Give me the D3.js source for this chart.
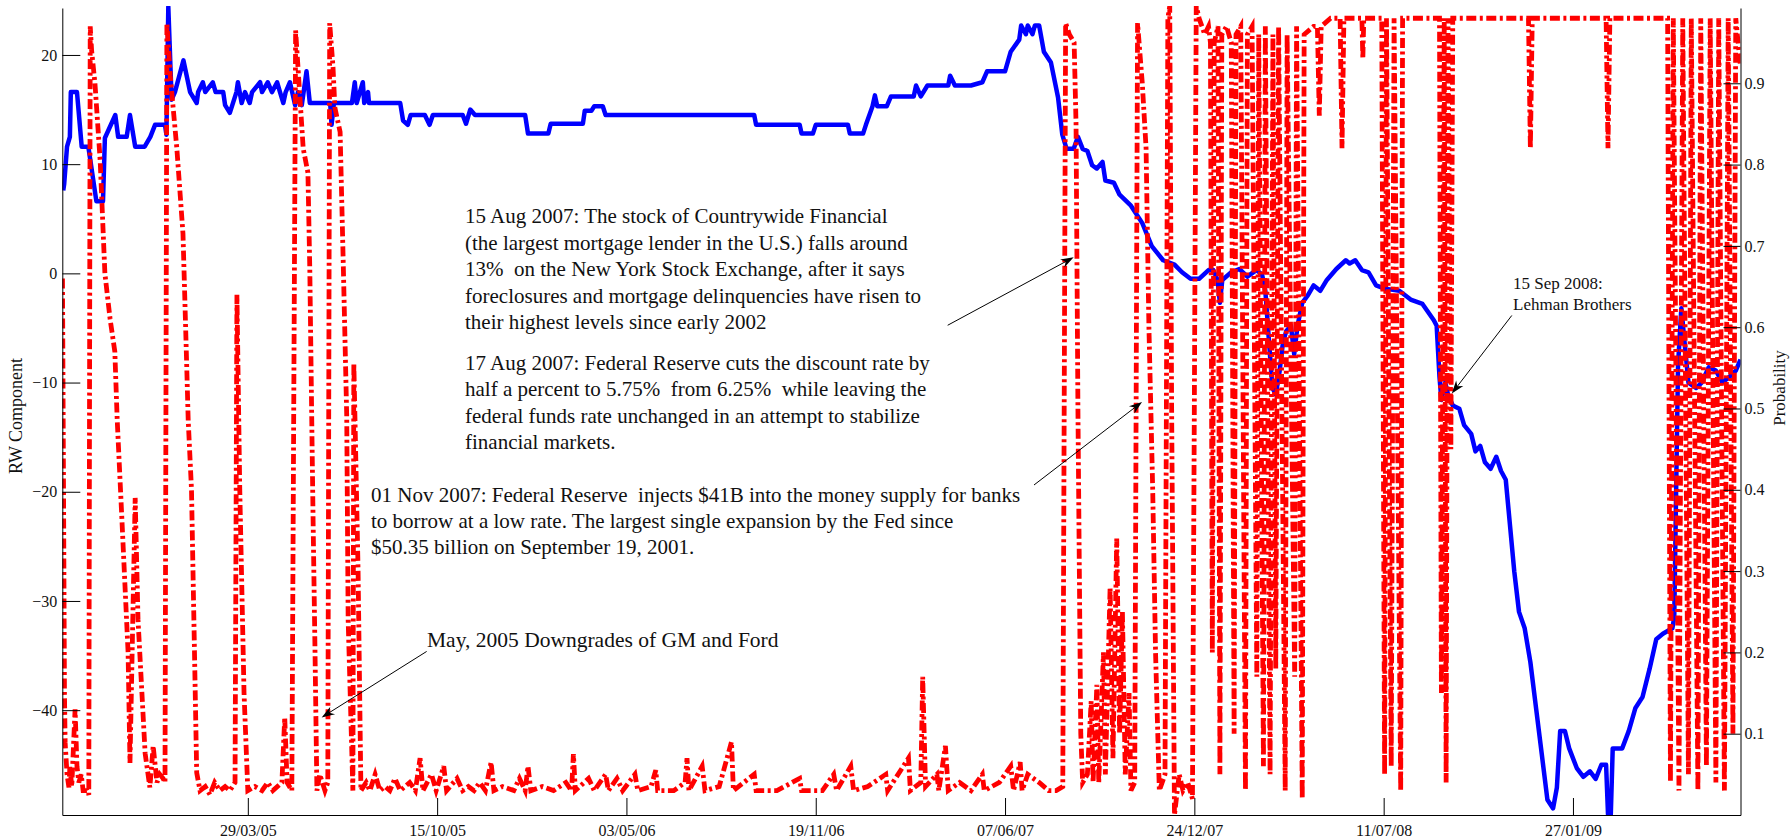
<!DOCTYPE html>
<html lang="en">
  <head>
    <meta charset="UTF-8" />
    <title>RW component and probability</title>
    <script src="https://d3js.org/d3.v7.min.js"></script>
    <style>
      body { margin: 0; background: #fff; }
      text { font-family: "Liberation Serif", "Times New Roman", serif; fill: #111; }
      .axis text { font-size: 16px; }
      .axis line, .axis path { stroke: #000; stroke-width: 1; }
      .note { white-space: pre; }
    </style>
  </head>
  <body>
    <svg id="chart" width="1791" height="840"></svg>

    <script>
      // days counted from the first observation
      const startDate = new Date(2004, 8, 14);
      const endDate = new Date(2009, 6, 23);

      const dateTicks = ["29/03/05", "15/10/05", "03/05/06", "19/11/06", "07/06/07", "24/12/07", "11/07/08", "27/01/09"];
      const rwTicks = [-40, -30, -20, -10, 0, 10, 20];
      const probTicks = [0.1, 0.2, 0.3, 0.4, 0.5, 0.6, 0.7, 0.8, 0.9];

      // [day, RW component]
      const rwSeries = [
        [1,7.6],[2,8.2],[5,11.6],[8,12.5],[9,16.6],[15.5,16.6],[20.5,11.6],[27.5,11.6],[36,6.6],[43,6.6],
        [45,12.4],[56,14.5],[59,12.5],[68,12.5],[71.5,14.5],[77,11.6],[87,11.6],[93,12.5],[98,13.6],[108.5,13.6],
        [110,12.7],[112,24.4],[115.5,15.9],[119,16.6],[128,19.5],[135,16.6],[142,15.6],[143.5,16.6],[148.5,17.5],[151,16.6],
        [159,17.5],[162,16.6],[170,16.6],[172,15.4],[177,14.7],[184,16.6],[185.5,17.5],[189.5,15.6],[193,16.6],[198,15.6],
        [200.5,16.6],[209,17.5],[211,16.6],[217,17.5],[221.5,16.6],[227,17.5],[230,16.6],[233.5,15.6],[236,16.6],[240.5,17.5],
        [246,15.4],[249,16.6],[253,15.4],[258,18.5],[261.5,15.6],[283,15.6],[284.5,13.6],[287,15.6],[306,15.6],[309,17.5],
        [311,15.6],[317.5,17.5],[319,15.6],[323,16.6],[324,15.6],[357,15.6],[360,14.0],[365,13.6],[368,14.5],[383,14.5],
        [388,13.6],[391.5,14.5],[411,14.5],[423,14.5],[426.5,13.7],[431,15],[436,14.5],[489,14.5],[492,12.8],[513.5,12.8],
        [516,13.7],[550,13.7],[552,14.9],[559,14.9],[562,15.3],[571,15.3],[574,14.5],[731,14.5],[733,13.6],[779,13.6],
        [781,12.8],[793,12.8],[796,13.6],[830,13.6],[832,12.8],[846,12.8],[849,13.6],[856,15.3],[858.5,16.3],[861,15.3],
        [871,15.3],[875.5,16.2],[899.5,16.2],[902,17.2],[907,16.2],[914,17.2],[936,17.2],[938,18.1],[943,17.2],[960,17.2],
        [972,17.5],[977,18.5],[996,18.5],[1002,20.3],[1011,21.4],[1013,22.7],[1018,21.9],[1020,22.7],[1025,21.9],[1027.5,22.7],
        [1032,22.7],[1037,20.3],[1044.5,19.3],[1052,16.1],[1056.5,12.7],[1061,11.4],[1068.5,11.4],[1073,12.5],[1078,11.4],[1083,11.2],
        [1088,9.9],[1093,9.6],[1099,10.2],[1102,8.5],[1111,8.3],[1117,7.2],[1129,6.2],[1141,4.6],[1151,2.5],[1163,1.2],
        [1175,0.8],[1183,0.1],[1192,-0.5],[1201,-0.5],[1211,0.3],[1216,0.3],[1220.5,-0.6],[1223,-2.7],[1225.5,-0.6],[1235,0.1],
        [1243.5,0.4],[1252,-0.3],[1261.5,0.3],[1267.5,-0.1],[1271,-1.6],[1275,-6.4],[1278.5,-10.5],[1282,-11.1],[1286,-9],[1289.5,-6.4],
        [1293,-5.3],[1298,-4.8],[1301.5,-7.4],[1305,-4.8],[1310,-2.7],[1316,-2],[1322,-1.1],[1329,-1.6],[1336,-0.6],[1346,0.4],
        [1356,1.2],[1360,0.9],[1366,1.2],[1373,0.3],[1380,0.1],[1388,-1.1],[1397,-1.4],[1412.5,-1.6],[1424.5,-2.4],[1437,-2.8],
        [1449,-4.3],[1452,-4.8],[1455,-9.5],[1457,-11.6],[1461,-10],[1464,-11.1],[1469,-12.1],[1476,-12.4],[1481,-13.9],[1488.5,-14.7],
        [1493,-16.3],[1498,-15.8],[1503,-17.3],[1509,-17.9],[1515,-16.8],[1520,-18.1],[1525,-18.9],[1529.5,-23.1],[1534,-27.3],[1539,-31],
        [1545,-32.5],[1551,-35.6],[1557,-39.8],[1563,-44],[1569,-48.2],[1575,-49],[1579,-47.1],[1582.5,-41.9],[1587.5,-41.9],[1592,-43.5],
        [1600,-45.3],[1607,-46.1],[1614,-45.6],[1620,-46.3],[1626,-45],[1631,-45],[1633,-49.5],[1636,-49.5],[1638,-43.5],[1648,-43.5],
        [1655,-41.9],[1662,-39.8],[1669.5,-38.8],[1677,-36.2],[1684,-33.5],[1691,-33],[1701,-32.5],[1703,-31.5],[1707,-8.4],[1710.5,-3.2],
        [1714,-6.4],[1718,-10],[1726,-10.5],[1732,-10],[1739.5,-8.6],[1747,-8.9],[1754,-10],[1761,-9.5],[1768,-8.9],[1773,-7.9]
      ];

      // [day, probability]
      const probSeries = [
        [0.2,0.66],[1.3,0.40],[2.3,0.15],[3,0.089],[5,0.05],[7,0.034],[8,0.06],[10,0.035],[13.5,0.13],[15.5,0.06],
        [17.5,0.04],[20,0.05],[22,0.03],[26,0.03],[28,0.025],[29.5,0.97],[31,0.94],[34.5,0.90],[40,0.805],[45,0.666],
        [50.5,0.61],[55.5,0.57],[58,0.486],[63,0.363],[69.5,0.2],[71.5,0.064],[77,0.39],[80,0.24],[87.5,0.076],[92.5,0.034],
        [96,0.085],[100,0.04],[103,0.05],[106.5,0.045],[108.5,0.04],[110.5,0.974],[114,0.91],[121,0.82],[127.5,0.715],[131.5,0.55],
        [133,0.486],[136.5,0.40],[142,0.052],[145.5,0.03],[151,0.035],[156,0.025],[161,0.04],[166.5,0.03],[172,0.035],[177,0.03],
        [182.5,0.04],[184.5,0.64],[187.5,0.40],[192,0.15],[196,0.03],[203.5,0.035],[211,0.03],[217,0.04],[222.5,0.03],[232,0.04],
        [235,0.12],[237.5,0.04],[242.5,0.03],[246.5,0.965],[249,0.92],[254.5,0.82],[259.5,0.79],[261.5,0.67],[263.5,0.49],[265,0.36],
        [267,0.2],[269,0.03],[272,0.05],[277.5,0.03],[280.5,0.04],[282.5,0.974],[286,0.92],[288,0.87],[293.5,0.84],[297,0.67],
        [300.5,0.49],[302,0.24],[307,0.03],[308,0.556],[312.5,0.30],[315.5,0.03],[321,0.04],[325,0.03],[330.5,0.05],[335.5,0.03],
        [341,0.035],[346,0.03],[351.5,0.045],[357,0.03],[367,0.04],[373,0.03],[378,0.07],[381,0.03],[390,0.05],[395,0.03],
        [403,0.06],[406,0.03],[417,0.045],[423,0.03],[429,0.035],[435,0.03],[441,0.04],[447,0.03],[453,0.065],[456,0.03],
        [465,0.035],[477,0.03],[483,0.045],[489,0.03],[492,0.06],[495,0.03],[507,0.035],[519,0.03],[532,0.04],[538,0.03],
        [540,0.075],[542,0.03],[556,0.045],[562,0.03],[574,0.05],[577,0.03],[586,0.045],[592,0.03],[605,0.05],[608,0.03],
        [622,0.035],[627,0.055],[629,0.03],[646,0.03],[658,0.04],[660,0.07],[662,0.03],[676,0.06],[679,0.03],[694,0.035],
        [707,0.09],[709,0.03],[731,0.05],[733,0.03],[755,0.03],[779,0.045],[781,0.03],[803,0.03],[815,0.05],[818,0.03],
        [833,0.06],[836,0.03],[851,0.035],[870,0.05],[872,0.03],[894,0.07],[896,0.03],[907,0.04],[909,0.17],[912,0.035],
        [924,0.05],[926,0.03],[933,0.085],[936,0.03],[948,0.04],[960,0.03],[972,0.05],[974,0.03],[990,0.04],[1002,0.06],
        [1005,0.03],[1012,0.065],[1014,0.03],[1020,0.05],[1032,0.04],[1042,0.03],[1050,0.03],[1057,0.035],[1060,0.974],[1064,0.96],
        [1069,0.95],[1071,0.85],[1073,0.5],[1076,0.1],[1078,0.04],[1083,0.05],[1087,0.14],[1089,0.04],[1093,0.16],[1095,0.04],
        [1100,0.2],[1102,0.05],[1107,0.28],[1110,0.07],[1114,0.34],[1117,0.1],[1120,0.25],[1123,0.05],[1127,0.15],[1129,0.03],
        [1133,0.04],[1136,0.974],[1141,0.9],[1145,0.82],[1148,0.6],[1152,0.4],[1155,0.2],[1159,0.03],[1165,0.05],[1168,0.98],
        [1170,0.995],[1172,0.5],[1175,0.0],[1180,0.05],[1184,0.03],[1189,0.04],[1194,0.02],[1198,0.995],[1201,0.98],[1207,0.96],
        [1211,0.97],[1213,0.95],[1215,0.2],[1217,0.95],[1221,0.97],[1223,0.05],[1225,0.96],[1230,0.97],[1235,0.95],[1238,0.1],
        [1240,0.96],[1245,0.97],[1250,0.03],[1252,0.96],[1257,0.97],[1262,0.17],[1264,0.96],[1269,0.06],[1271,0.97],[1276,0.05],
        [1279,0.96],[1282,0.18],[1285,0.97],[1292,0.03],[1294,0.96],[1302,0.17],[1304,0.97],[1310,0.02],[1312,0.96],[1322,0.97],
        [1326,0.97],[1328,0.86],[1330,0.97],[1340,0.98],[1350,0.98],[1352,0.82],[1354,0.98],[1370,0.98],[1373,0.98],[1374,0.93],
        [1375,0.98],[1394,0.98],[1397,0.05],[1399,0.98],[1404,0.06],[1407,0.98],[1414,0.03],[1416,0.98],[1443,0.98],[1455,0.98],
        [1457,0.15],[1460,0.98],[1462,0.04],[1464,0.98],[1467,0.45],[1469,0.98],[1503,0.98],[1549,0.98],[1551,0.82],[1553,0.98],
        [1631,0.98],[1633,0.82],[1635,0.98],[1696,0.98],[1699,0.04],[1702,0.98],[1708,0.03],[1712,0.98],[1718,0.05],[1721,0.98],
        [1728,0.03],[1731,0.98],[1737,0.06],[1741,0.98],[1747,0.04],[1750,0.98],[1756,0.03],[1760,0.98],[1765,0.1],[1768,0.98],
        [1773,0.92]
      ];

      const noteAug15 = [
        "15 Aug 2007: The stock of Countrywide Financial",
        "(the largest mortgage lender in the U.S.) falls around",
        "13%  on the New York Stock Exchange, after it says",
        "foreclosures and mortgage delinquencies have risen to",
        "their highest levels since early 2002"
      ];
      const noteAug17 = [
        "17 Aug 2007: Federal Reserve cuts the discount rate by",
        "half a percent to 5.75%  from 6.25%  while leaving the",
        "federal funds rate unchanged in an attempt to stabilize",
        "financial markets."
      ];
      const noteNov = [
        "01 Nov 2007: Federal Reserve  injects $41B into the money supply for banks",
        "to borrow at a low rate. The largest single expansion by the Fed since",
        "$50.35 billion on September 19, 2001."
      ];
      const noteMay = ["May, 2005 Downgrades of GM and Ford"];
      const noteLehman = ["15 Sep 2008:", "Lehman Brothers"];

      const padL = 62.3, padR = 1740.5, padT = 8, padB = 815;

      const svg = d3.select("#chart");
      const parseTick = d3.timeParse("%d/%m/%y");
      const dayToDate = (d) => new Date(startDate.getTime() + d * 864e5);

      const x = d3.scaleTime().domain([startDate, endDate]).range([padL, padR]);
      const yL = d3.scaleLinear().domain([-49.6, 24.3]).range([padB, padT]);
      const yR = d3.scaleLinear().domain([0, 0.9926]).range([padB, padT]);

      svg.append("clipPath").attr("id", "plot")
        .append("rect").attr("x", padL).attr("y", padT - 2)
        .attr("width", padR - padL).attr("height", padB - padT + 2);

      // blue RW component
      svg.append("path")
        .datum(rwSeries)
        .attr("clip-path", "url(#plot)")
        .attr("fill", "none")
        .attr("stroke", "#0000ff")
        .attr("stroke-width", 4.5)
        .attr("stroke-linejoin", "round")
        .attr("d", d3.line().x((d) => x(dayToDate(d[0]))).y((d) => yL(d[1])));

      // red dash-dot probability
      svg.append("path")
        .datum(probSeries)
        .attr("clip-path", "url(#plot)")
        .attr("fill", "none")
        .attr("stroke", "#ff0000")
        .attr("stroke-width", 4.8)
        .attr("stroke-dasharray", "10,3.5,3,3.5")
        .attr("d", d3.line().x((d) => x(dayToDate(d[0]))).y((d) => yR(d[1])));

      // axes
      svg.append("g")
        .attr("class", "axis")
        .attr("transform", `translate(0,${padB})`)
        .call(d3.axisBottom(x)
          .tickValues(dateTicks.map(parseTick))
          .tickFormat(d3.timeFormat("%d/%m/%y"))
          .tickSizeInner(-17).tickSizeOuter(0).tickPadding(10))
        .call((g) => g.selectAll("text").attr("dy", "0.71em"));

      svg.append("g")
        .attr("class", "axis")
        .attr("transform", `translate(${padL},0)`)
        .call(d3.axisLeft(yL).tickValues(rwTicks).tickSizeInner(-18).tickSizeOuter(0).tickPadding(5));

      svg.append("g")
        .attr("class", "axis")
        .attr("transform", `translate(${padR},0)`)
        .call(d3.axisRight(yR).tickValues(probTicks).tickSizeInner(-17).tickSizeOuter(0).tickPadding(4));

      svg.append("text")
        .attr("transform", "translate(22,416) rotate(-90)")
        .attr("text-anchor", "middle")
        .attr("font-size", 18)
        .text("RW Component");

      svg.append("text")
        .attr("transform", "translate(1785,388) rotate(-90)")
        .attr("text-anchor", "middle")
        .attr("font-size", 17)
        .text("Probability");

      // annotations
      function block(lines, x0, y0, dy, size) {
        const t = svg.append("text").attr("class", "note").attr("font-size", size);
        lines.forEach((s, i) => {
          t.append("tspan").attr("x", x0).attr("y", y0 + i * dy).text(s);
        });
      }
      block(noteAug15, 465, 223, 26.5, 21);
      block(noteAug17, 465, 369.5, 26.5, 21);
      block(noteNov, 371, 502, 26, 21);
      block(noteMay, 427, 647, 24, 21.5);
      block(noteLehman, 1513, 289, 21, 17);

      function arrow(x1, y1, x2, y2) {
        const a = Math.atan2(y2 - y1, x2 - x1);
        const L = 13, w = 4.5;
        svg.append("line")
          .attr("x1", x1).attr("y1", y1)
          .attr("x2", x2 - Math.cos(a) * 8).attr("y2", y2 - Math.sin(a) * 8)
          .attr("stroke", "#000").attr("stroke-width", 1);
        const bx = x2 - Math.cos(a) * L, by = y2 - Math.sin(a) * L;
        const nx = -Math.sin(a), ny = Math.cos(a);
        const mx = x2 - Math.cos(a) * (L - 4), my = y2 - Math.sin(a) * (L - 4);
        svg.append("path")
          .attr("d", `M${x2},${y2}L${bx + nx * w},${by + ny * w}L${mx},${my}L${bx - nx * w},${by - ny * w}Z`)
          .attr("fill", "#000");
      }
      // tips sit on the data they point at
      const tipMay = [x(dayToDate(274)), yR(0.12)];
      const tipAug = [x(dayToDate(1068.5)), yR(0.686)];
      const tipNov = [x(dayToDate(1140.7)), yR(0.508)];
      const tipLehman = [x(dayToDate(1468)), yL(-11)];
      arrow(tipMay[0] + 105, tipMay[1] - 66, tipMay[0], tipMay[1]);
      arrow(tipAug[0] - 126, tipAug[1] + 68, tipAug[0], tipAug[1]);
      arrow(tipNov[0] - 108, tipNov[1] + 83, tipNov[0], tipNov[1]);
      arrow(tipLehman[0] + 60, tipLehman[1] - 78, tipLehman[0], tipLehman[1]);
    </script>
  </body>
</html>
